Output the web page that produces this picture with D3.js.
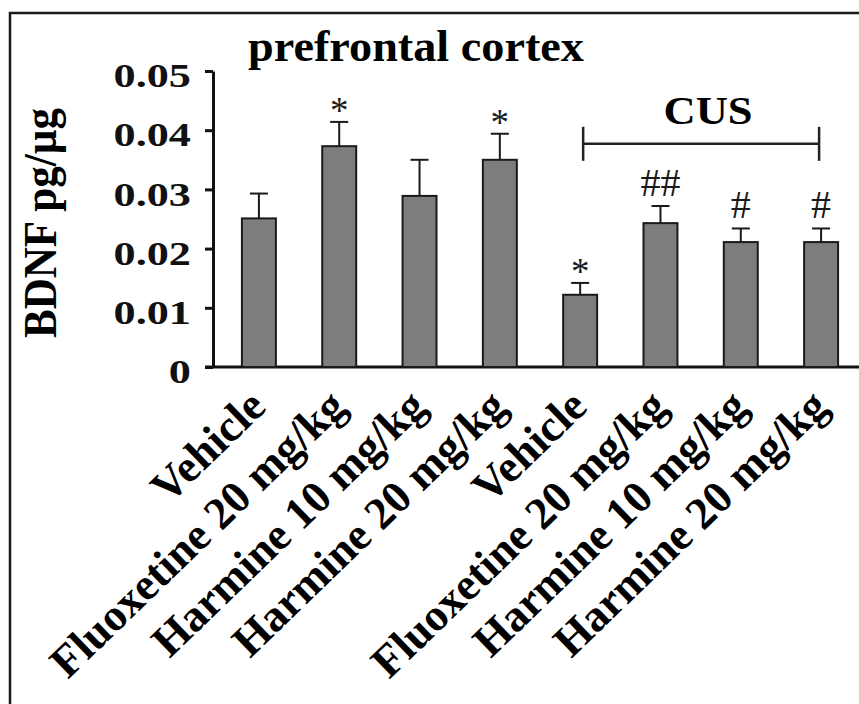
<!DOCTYPE html>
<html>
<head>
<meta charset="utf-8">
<script src="https://cdn.jsdelivr.net/npm/d3@7"></script>
<style>
  body { margin: 0; background: #fff; }
  text { font-family: "Liberation Serif", "Times New Roman", serif; }
</style>
</head>
<body>
<script>
// data
const groups = ["Vehicle", "Fluoxetine 20 mg/kg", "Harmine 10 mg/kg", "Harmine 20 mg/kg",
                "Vehicle", "Fluoxetine 20 mg/kg", "Harmine 10 mg/kg", "Harmine 20 mg/kg"];
const means = [0.0251, 0.0373, 0.0289, 0.0350, 0.0122, 0.0243, 0.0211, 0.0211];
const errors = [0.0042, 0.0041, 0.0061, 0.0044, 0.0020, 0.0029, 0.0023, 0.0023];
const marks = ["", "*", "", "*", "*", "##", "#", "#"];
const yTicks = [0, 0.01, 0.02, 0.03, 0.04, 0.05];
const cusGroup = [4, 7];
const cusLevel = 0.0377;

const width = 859;
const height = 704;

const svg = d3.select("body")
  .append("svg")
  .attr("width", width)
  .attr("height", height);

//frame (cropped on the right and bottom)
svg.append("rect")
  .attr("x", 10)
  .attr("y", 13)
  .attr("width", 900)
  .attr("height", 720)
  .attr("fill", "none")
  .attr("stroke", "#1a1a1a")
  .attr("stroke-width", 2.5);

const y = d3.scaleLinear().domain([0, 0.05]).range([367, 71]);
const x = d3.scaleBand()
  .domain(d3.range(groups.length))
  .range([213, 867])
  .paddingInner(0.577)
  .paddingOuter(0.36);

//y axis
const yAxis = svg.append("g")
  .attr("transform", "translate(213,0)")
  .call(d3.axisLeft(y).tickValues(yTicks).tickSize(8).tickSizeOuter(0).tickPadding(9)
    .tickFormat(d => d === 0 ? "0" : d3.format(".2f")(d)));
yAxis.select(".domain").attr("stroke", "#111").attr("stroke-width", 3);
yAxis.selectAll(".tick line").attr("stroke", "#111").attr("stroke-width", 3);
yAxis.selectAll(".tick text")
  .attr("fill", "#111")
  .attr("font-size", 34)
  .attr("font-weight", "bold")
  .attr("dy", "0.46em")
  .attr("transform", "scale(1.3,1)");

//x axis line
svg.append("line")
  .attr("x1", 205)
  .attr("x2", width)
  .attr("y1", y(0))
  .attr("y2", y(0))
  .attr("stroke", "#111")
  .attr("stroke-width", 3);

//bars
svg.selectAll(".bar")
  .data(means)
  .enter()
  .append("rect")
  .attr("class", "bar")
  .attr("x", (d, i) => x(i))
  .attr("y", d => y(d))
  .attr("width", x.bandwidth())
  .attr("height", d => y(0) - y(d))
  .attr("fill", "#7d7d7d")
  .attr("stroke", "#1a1a1a")
  .attr("stroke-width", 2);

//error bars (upper only)
const cx = i => x(i) + x.bandwidth() / 2;
svg.selectAll(".err")
  .data(means)
  .enter()
  .append("line")
  .attr("x1", (d, i) => cx(i))
  .attr("x2", (d, i) => cx(i))
  .attr("y1", d => y(d))
  .attr("y2", (d, i) => y(d + errors[i]))
  .attr("stroke", "#1a1a1a")
  .attr("stroke-width", 2);
svg.selectAll(".cap")
  .data(means)
  .enter()
  .append("line")
  .attr("x1", (d, i) => cx(i) - 9)
  .attr("x2", (d, i) => cx(i) + 9)
  .attr("y1", (d, i) => y(d + errors[i]))
  .attr("y2", (d, i) => y(d + errors[i]))
  .attr("stroke", "#1a1a1a")
  .attr("stroke-width", 2);

//significance marks
svg.selectAll(".mark")
  .data(marks)
  .enter()
  .append("text")
  .attr("x", (d, i) => cx(i))
  .attr("y", (d, i) => y(means[i] + errors[i]) - (d[0] === "*" ? -1 : 10))
  .attr("text-anchor", "middle")
  .attr("font-size", d => d[0] === "*" ? 37 : 40)
  .attr("fill", "#1a1a1a")
  .text(d => d);

//CUS bracket
const bx1 = cx(cusGroup[0]) + 3;
const bx2 = cx(cusGroup[1]) - 2;
const by = y(cusLevel);
svg.append("line").attr("x1", bx1).attr("x2", bx2).attr("y1", by).attr("y2", by)
  .attr("stroke", "#222").attr("stroke-width", 2.5);
[bx1, bx2].forEach(bx => {
  svg.append("line").attr("x1", bx).attr("x2", bx).attr("y1", by - 17).attr("y2", by + 17)
    .attr("stroke", "#222").attr("stroke-width", 2.5);
});
svg.append("text")
  .attr("x", (bx1 + bx2) / 2 + 7)
  .attr("y", by - 20)
  .attr("text-anchor", "middle")
  .attr("font-size", 41)
  .attr("font-weight", "bold")
  .attr("textLength", 89)
  .attr("lengthAdjust", "spacingAndGlyphs")
  .text("CUS");

//title
svg.append("text")
  .attr("x", 248)
  .attr("y", 61)
  .attr("font-size", 45)
  .attr("font-weight", "bold")
  .attr("textLength", 336)
  .attr("lengthAdjust", "spacingAndGlyphs")
  .text("prefrontal cortex");

//y label
svg.append("text")
  .attr("transform", "translate(56,338) rotate(-90)")
  .attr("font-size", 46)
  .attr("font-weight", "bold")
  .attr("textLength", 230)
  .attr("lengthAdjust", "spacingAndGlyphs")
  .text("BDNF pg/µg");

//x labels
svg.selectAll(".xlabel")
  .data(groups)
  .enter()
  .append("text")
  .attr("class", "xlabel")
  .attr("transform", (d, i) => `translate(${cx(i) + 9},409) rotate(-44)`)
  .attr("text-anchor", "end")
  .attr("font-size", 45)
  .attr("font-weight", "bold")
  .text(d => d);
</script>
</body>
</html>
